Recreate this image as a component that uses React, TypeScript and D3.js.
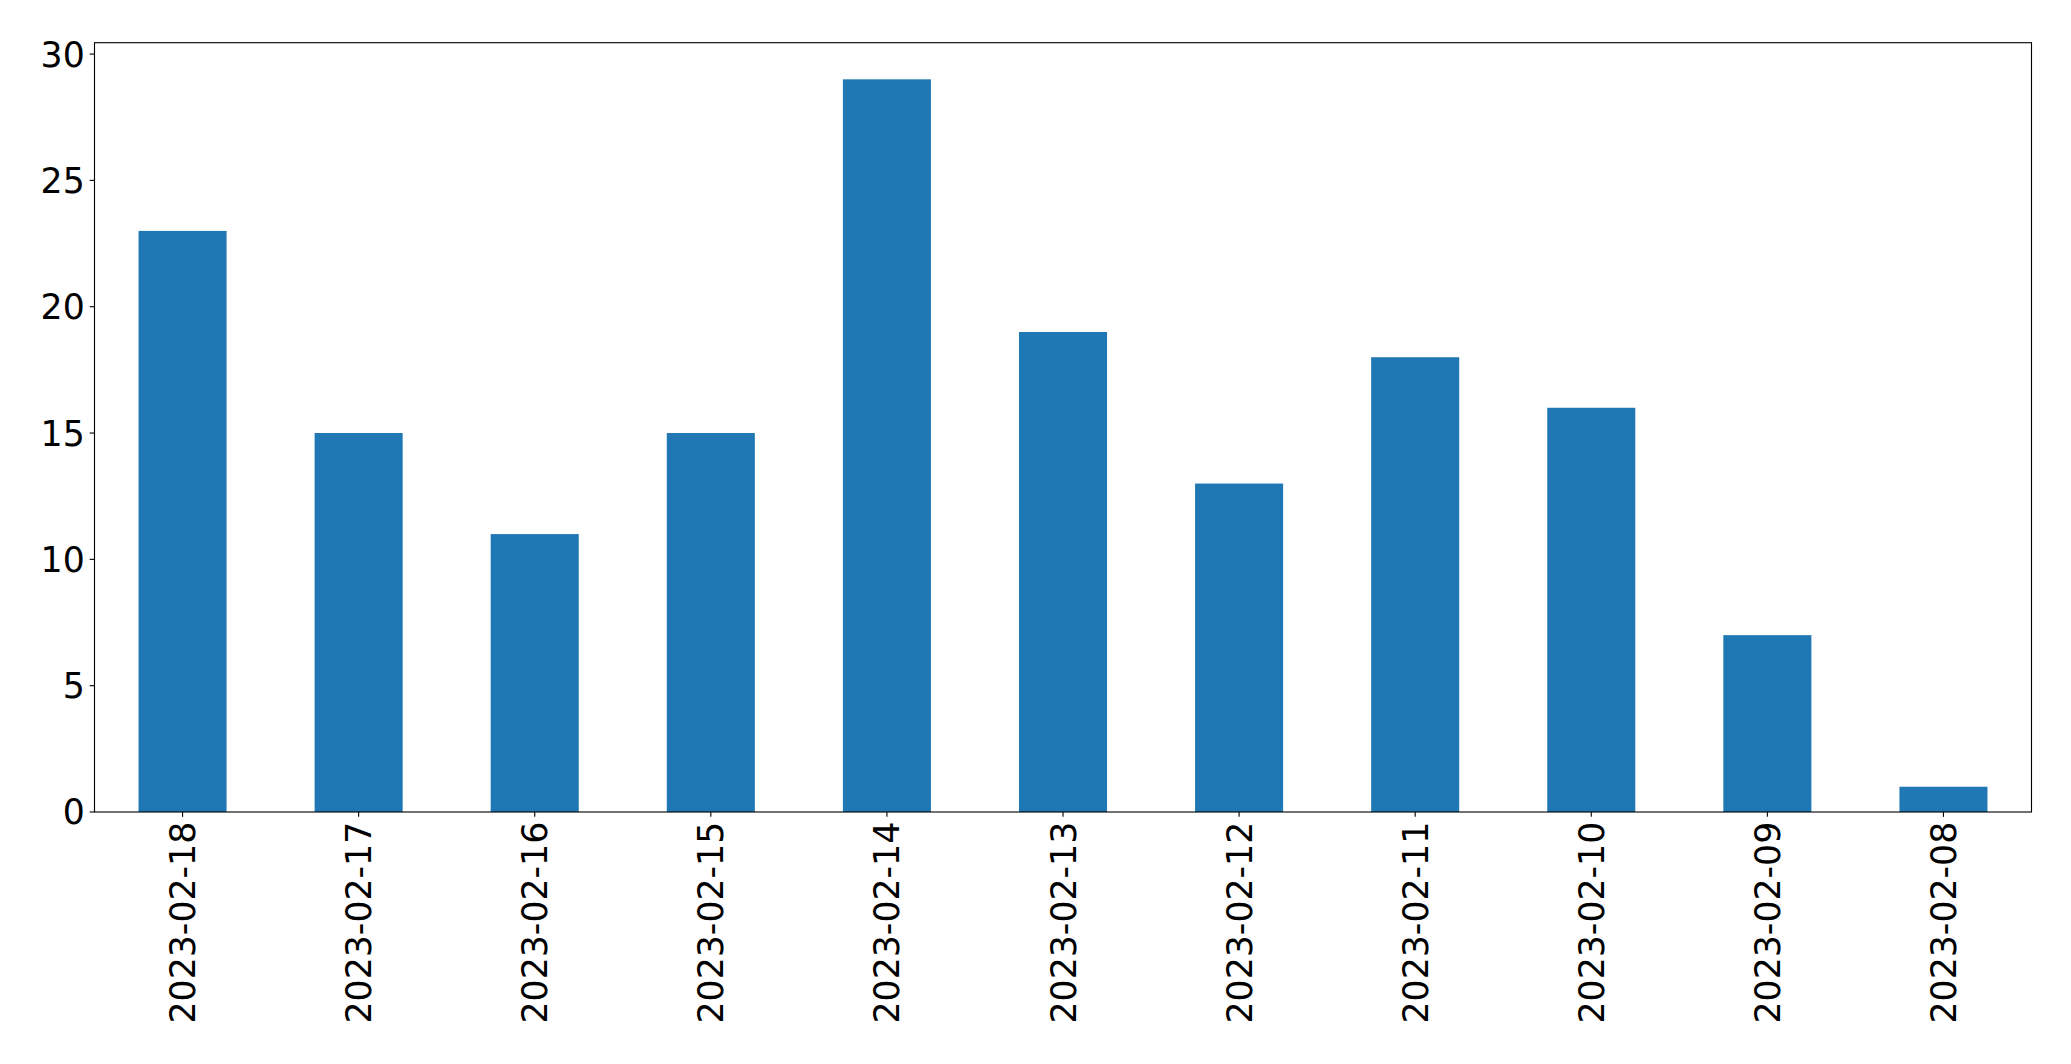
import React from "react";
import * as d3 from "d3";

const categories = ["2023-02-18", "2023-02-17", "2023-02-16", "2023-02-15", "2023-02-14", "2023-02-13", "2023-02-12", "2023-02-11", "2023-02-10", "2023-02-09", "2023-02-08"];
const counts = [23, 15, 11, 15, 29, 19, 13, 18, 16, 7, 1];
const yTicks = [0, 5, 10, 15, 20, 25, 30];

export default function App() {
  const W = 2071, H = 1064;
  const left = 94.5, right = 2031.5, top = 42.7, bottom = 812;
  const fs = 34.72;
  const tickLen = 4.86, pad = 4.86;
  const x = d3.scaleLinear().domain([-0.5, categories.length - 0.5]).range([left, right]);
  const yMax = (d3.max(counts) as number) * 1.05;
  const y = d3.scaleLinear().domain([0, yMax]).range([bottom, top]);
  const bw = x(0.25) - x(-0.25);
  return (
    <svg width={W} height={H} style={{ position: "absolute", left: 0, top: 0, background: "#fff" }} fontFamily="DejaVu Sans">
      <rect x={0} y={0} width={W} height={H} fill="#fff" />
      {counts.map((v, i) => (
        <rect key={i} x={x(i) - bw / 2} y={y(v)} width={bw} height={y(0) - y(v)} fill="#1f77b4" />
      ))}
      <rect x={left} y={top} width={right - left} height={bottom - top} fill="none" stroke="#000" strokeWidth={1.11} />
      {yTicks.map((t) => (
        <g key={t}>
          <line x1={left - tickLen} x2={left} y1={y(t)} y2={y(t)} stroke="#000" strokeWidth={1.11} />
          <text x={left - tickLen - pad} y={y(t)} dy="0.36em" textAnchor="end" fontSize={fs} fill="#000">{t}</text>
        </g>
      ))}
      {categories.map((c, i) => (
        <g key={c}>
          <line x1={x(i)} x2={x(i)} y1={bottom} y2={bottom + tickLen} stroke="#000" strokeWidth={1.11} />
          <text transform={`translate(${x(i)},${bottom + tickLen + pad}) rotate(-90)`} dy="0.36em" textAnchor="end" fontSize={fs} fill="#000">{c}</text>
        </g>
      ))}
    </svg>
  );
}
